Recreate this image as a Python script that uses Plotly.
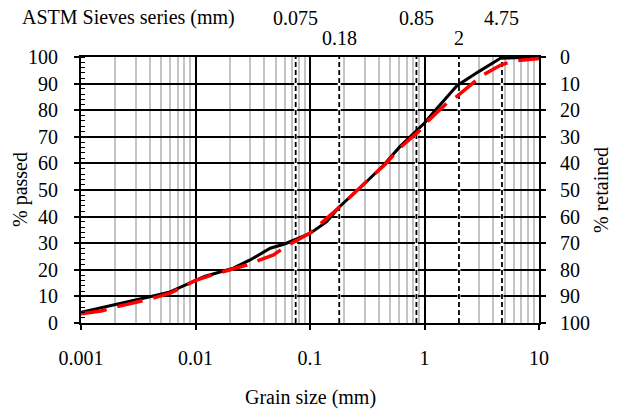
import numpy as np
import plotly.graph_objects as go

# ---- data ----
black_x = [0.001, 0.0018, 0.004, 0.006, 0.01, 0.012, 0.015, 0.0214, 0.03, 0.045,
           0.06, 0.07, 0.1, 0.14, 0.18, 0.31, 0.44, 0.61, 0.75, 1.0, 1.2, 1.92, 3.0, 4.6, 10.0]
black_y = [4.0, 6.4, 9.9, 11.7, 16.0, 17.5, 18.7, 20.6, 23.7, 28.1,
           29.7, 30.9, 33.7, 38.1, 43.6, 53.0, 59.4, 66.3, 70.0, 75.2, 79.2, 89.2, 94.6, 99.5, 100.0]

red_x = [0.001, 0.0015, 0.002, 0.004, 0.006, 0.01, 0.015, 0.02, 0.028, 0.048,
         0.061, 0.1, 0.18, 0.3, 0.45, 0.61, 0.92, 1.05, 1.62, 1.92, 2.5, 3.2, 4.6, 5.2, 6.5, 10.0]
red_y = [3.5, 4.5, 6.0, 9.0, 11.2, 16.0, 18.5, 20.0, 21.8, 25.6,
         28.7, 33.8, 43.5, 52.5, 59.5, 65.8, 72.6, 75.6, 83.2, 85.2, 89.4, 93.1, 96.9, 97.7, 98.7, 99.4]

sieves = [0.075, 0.18, 0.85, 2, 4.75]
sieve_labels = ["0.075", "0.18", "0.85", "2", "4.75"]
sieve_row = [0, 1, 0, 1, 0]  # 0 = upper row, 1 = lower row

x_ticks = [0.001, 0.01, 0.1, 1, 10]
x_ticktext = ["0.001", "0.01", "0.1", "1", "10"]

# minor grid positions: 2..9 in each decade
minor_vals = [k * 10.0 ** e for e in range(-3, 1) for k in range(2, 10)]

FONT = "'Liberation Serif', 'Times New Roman', Times, serif"
FS = 20

fig = go.Figure()

# sieve reference lines (white under-line, dashed black on top)
for s in sieves:
    fig.add_trace(go.Scatter(x=[s, s], y=[0, 100], mode="lines",
                             line=dict(color="white", width=3), showlegend=False, hoverinfo="skip"))
    fig.add_trace(go.Scatter(x=[s, s], y=[0, 100], mode="lines",
                             line=dict(color="black", width=1.8, dash="5px,3px"),
                             showlegend=False, hoverinfo="skip"))

fig.add_trace(go.Scatter(x=black_x, y=black_y, mode="lines",
                         line=dict(color="black", width=3), showlegend=False))
fig.add_trace(go.Scatter(x=red_x, y=red_y, mode="lines",
                         line=dict(color="#ff0000", width=3.5, dash="26px,11px"), showlegend=False))
# dummy trace to activate the right axis
fig.add_trace(go.Scatter(x=[0.01], y=[None], yaxis="y2", showlegend=False, hoverinfo="skip"))

tickfont = dict(family=FONT, size=FS, color="black")

fig.update_layout(
    width=619, height=409,
    margin=dict(l=81, r=80, t=57, b=86),
    paper_bgcolor="white", plot_bgcolor="white",
    font=dict(family=FONT, size=FS, color="black"),
    xaxis=dict(type="log", range=[-3, 1], tickvals=x_ticks, ticktext=x_ticktext,
               showgrid=True, gridcolor="black", gridwidth=2,
               minor=dict(tickmode="array", tickvals=minor_vals, showgrid=True,
                          gridcolor="#c4c4c4", gridwidth=2, ticks=""),
               showline=True, linecolor="black", linewidth=2, mirror=True,
               ticks="outside", ticklen=5, tickwidth=2, tickcolor="black",
               tickfont=tickfont, ticklabelstandoff=11, zeroline=False),
    yaxis=dict(range=[0, 100], dtick=10, showgrid=True, gridcolor="black", gridwidth=2,
               showline=True, linecolor="black", linewidth=2, mirror=True,
               ticks="outside", ticklen=5, tickwidth=2, tickcolor="black",
               minor=dict(dtick=2, ticks="inside", ticklen=4, tickwidth=1, tickcolor="black", showgrid=False),
               tickfont=tickfont, ticklabelstandoff=12, zeroline=False),
    yaxis2=dict(range=[100, 0], dtick=10, overlaying="y", side="right",
                showgrid=False, showline=True, linecolor="black", linewidth=2,
                ticks="outside", ticklen=5, tickwidth=2, tickcolor="black",
                tickfont=tickfont, ticklabelstandoff=10, zeroline=False),
)

ann = []
ann.append(dict(text="ASTM Sieves series (mm)", xref="paper", yref="paper",
                x=(128 - 81) / 458, y=(323 - 18) / 266, xanchor="center", yanchor="middle",
                showarrow=False, font=dict(family=FONT, size=FS, color="black")))
for s, lab, row in zip(sieves, sieve_labels, sieve_row):
    ypix = 18 if row == 0 else 38
    ann.append(dict(text=lab, xref="x", yref="paper", x=np.log10(s), y=(323 - ypix) / 266,
                    xanchor="center", yanchor="middle", showarrow=False,
                    font=dict(family=FONT, size=FS, color="black")))
ann.append(dict(text="% passed", xref="paper", yref="paper", x=(20 - 81) / 458, y=0.5,
                textangle=-90, xanchor="center", yanchor="middle", showarrow=False,
                font=dict(family=FONT, size=FS, color="black")))
ann.append(dict(text="% retained", xref="paper", yref="paper", x=(601 - 81) / 458, y=0.5,
                textangle=-90, xanchor="center", yanchor="middle", showarrow=False,
                font=dict(family=FONT, size=FS, color="black")))
ann.append(dict(text="Grain size (mm)", xref="paper", yref="paper", x=(310 - 81) / 458,
                y=(323 - 397) / 266, xanchor="center", yanchor="middle", showarrow=False,
                font=dict(family=FONT, size=FS, color="black")))
fig.update_layout(annotations=ann)

fig.write_html("out.html")
